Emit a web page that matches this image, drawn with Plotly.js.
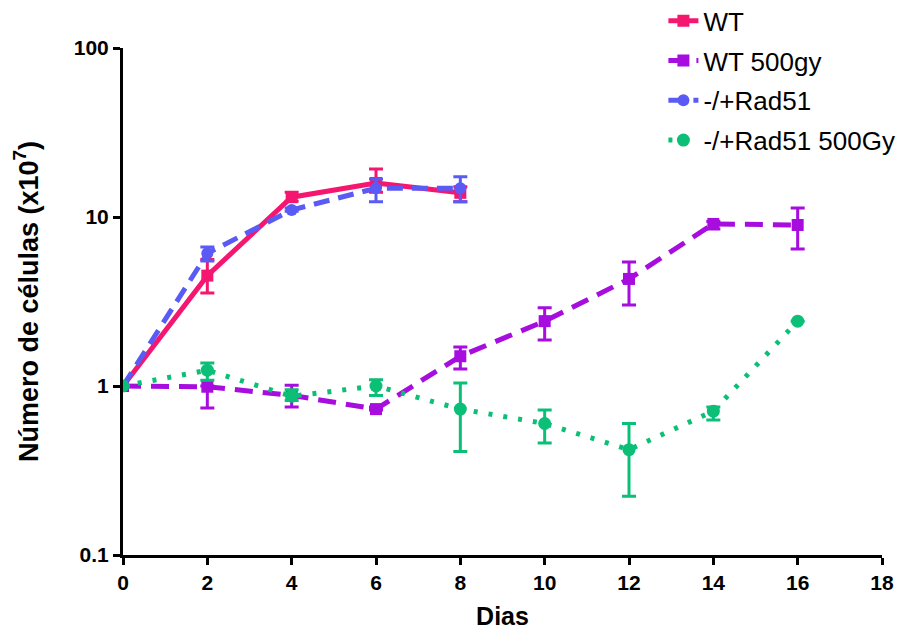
<!DOCTYPE html>
<html>
<head>
<meta charset="utf-8">
<script src="https://cdn.plot.ly/plotly-3.0.1.min.js"></script>
<style>html,body{margin:0;padding:0;background:#fff}#chart{width:907px;height:635px}</style>
</head>
<body>
<div id="chart"></div>
<script>
const dias = [0, 2, 4, 6, 8, 10, 12, 14, 16];
const tickVals = [0, 2, 4, 6, 8, 10, 12, 14, 16, 18];

const wtDays = [0, 2, 4, 6, 8];
const wtMean = [1.0, 4.5, 13.1, 15.9, 13.9];
const wtHigh = [1.0, 5.6, 14.0, 19.2, 15.1];
const wtLow  = [1.0, 3.55, 12.4, 14.0, 12.3];

const wt500Mean = [1.0, 0.99, 0.88, 0.73, 1.5, 2.42, 4.3, 9.1, 8.97];
const wt500High = [1.0, 1.0, 1.01, 0.75, 1.70, 2.90, 5.42, 9.4, 11.3];
const wt500Low  = [1.0, 0.74, 0.75, 0.72, 1.26, 1.87, 3.01, 8.5, 6.47];

const radDays = [0, 2, 4, 6, 8];
const radMean = [1.0, 6.1, 11.0, 14.8, 14.8];
const radHigh = [1.0, 6.64, 11.3, 16.8, 17.3];
const radLow  = [1.0, 5.5, 10.8, 12.3, 12.3];

const rad500Mean = [1.0, 1.24, 0.87, 1.0, 0.73, 0.60, 0.42, 0.71, 2.42];
const rad500High = [1.0, 1.37, 0.95, 1.09, 1.04, 0.72, 0.60, 0.75, 2.42];
const rad500Low  = [1.0, 1.08, 0.82, 0.88, 0.41, 0.46, 0.223, 0.63, 2.42];

const names = ['WT', 'WT 500gy', '-/+Rad51', '-/+Rad51 500Gy'];
const colors = ['#F5166F', '#A60DDE', '#5A5BF5', '#0BBF77'];

function errs(mean, hi, lo, color) {
  return {
    type: 'data', symmetric: false,
    array: mean.map((m, i) => hi[i] - m),
    arrayminus: mean.map((m, i) => m - lo[i]),
    color: color, thickness: 3, width: 7
  };
}

const traces = [
  {x: wtDays, y: wtMean, name: names[0], mode: 'lines+markers',
   line: {color: colors[0], width: 5, dash: 'solid'},
   marker: {symbol: 'square', size: 12, color: colors[0]},
   error_y: errs(wtMean, wtHigh, wtLow, colors[0]), legendgroup: 'a'},
  {x: dias, y: wt500Mean, name: names[1], mode: 'lines+markers',
   line: {color: colors[1], width: 5, dash: '18px,10px'},
   marker: {symbol: 'square', size: 12, color: colors[1]},
   error_y: errs(wt500Mean, wt500High, wt500Low, colors[1]), legendgroup: 'b'},
  {x: radDays, y: radMean, name: names[2], mode: 'lines+markers',
   line: {color: colors[2], width: 5, dash: '16px,9px'},
   marker: {symbol: 'circle', size: 12, color: colors[2]},
   error_y: errs(radMean, radHigh, radLow, colors[2]), legendgroup: 'c'},
  {x: dias, y: rad500Mean, name: names[3], mode: 'lines+markers',
   line: {color: colors[3], width: 5, dash: '4px,11px'},
   marker: {symbol: 'circle', size: 13, color: colors[3]},
   error_y: errs(rad500Mean, rad500High, rad500Low, colors[3]), legendgroup: 'd'}
];

const layout = {
  width: 907, height: 635,
  margin: {l: 123, r: 25, t: 48, b: 80, autoexpand: false},
  paper_bgcolor: '#fff', plot_bgcolor: '#fff',
  font: {family: 'Liberation Sans, Arial, sans-serif', color: '#000'},
  showlegend: true,
  legend: {x: 0.712, y: 1.1, xanchor: 'left', yanchor: 'top',
           font: {size: 26, family: 'Liberation Sans, Arial, sans-serif'},
           traceorder: 'grouped', tracegroupgap: 3, bgcolor: 'rgba(0,0,0,0)'},
  xaxis: {
    range: [0, 18], tickvals: tickVals, ticktext: tickVals.map(String),
    showgrid: false, zeroline: false, showline: true, linecolor: '#000', linewidth: 3,
    ticks: 'outside', ticklen: 7, tickwidth: 3, tickcolor: '#000',
    tickfont: {size: 21, family: 'Liberation Sans Narrow, Arial Narrow, Liberation Sans, sans-serif', weight: 'bold'},
    title: {text: '<b>Dias</b>', font: {size: 25, family: 'Liberation Sans Narrow, Arial Narrow, Liberation Sans, sans-serif'}, standoff: 15}
  },
  yaxis: {
    type: 'log', range: [-1, 2],
    tickvals: [0.1, 1, 10, 100], ticktext: ['0.1', '1', '10', '100'],
    showgrid: false, zeroline: false, showline: true, linecolor: '#000', linewidth: 3,
    ticks: 'outside', ticklen: 7, tickwidth: 3, tickcolor: '#000',
    tickfont: {size: 21, weight: 'bold'},
    title: {text: '<b>Número de células (x10<sup>7</sup>)</b>', font: {size: 27}, standoff: 28}
  }
};

Plotly.newPlot('chart', traces, layout, {displayModeBar: false, staticPlot: true});
</script>
</body>
</html>
